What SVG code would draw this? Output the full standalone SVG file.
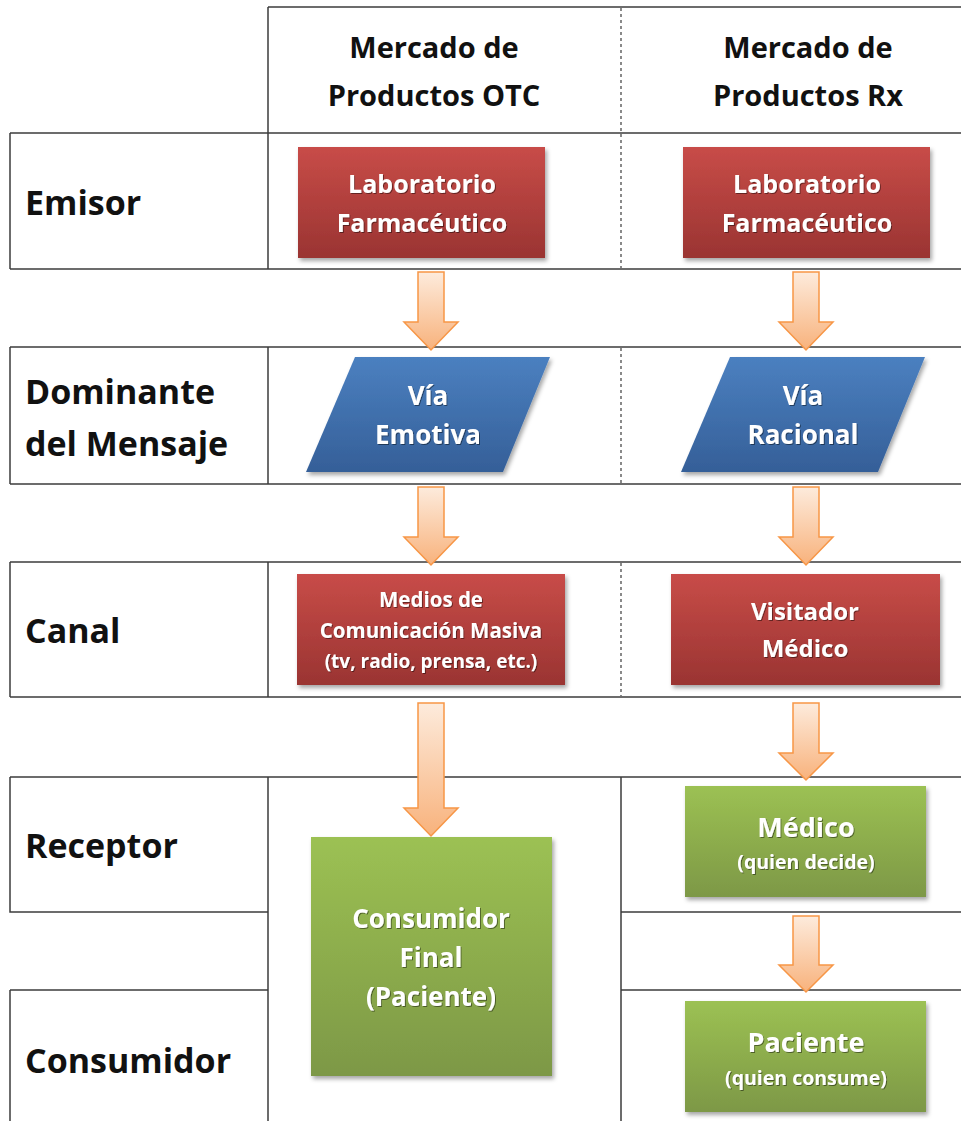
<svg xmlns="http://www.w3.org/2000/svg" width="961" height="1121" viewBox="0 0 961 1121">
<defs>
<linearGradient id="gRed" x1="0" y1="0" x2="0" y2="1"><stop offset="0" stop-color="#c84c48"/><stop offset="1" stop-color="#9a3432"/></linearGradient>
<linearGradient id="gBlue" x1="0" y1="0" x2="0" y2="1"><stop offset="0" stop-color="#4b80c0"/><stop offset="1" stop-color="#355f98"/></linearGradient>
<linearGradient id="gGreen" x1="0" y1="0" x2="0" y2="1"><stop offset="0" stop-color="#9cc153"/><stop offset="1" stop-color="#7d9846"/></linearGradient>
<linearGradient id="gArrow" x1="0" y1="0" x2="0" y2="1"><stop offset="0" stop-color="#fdebdc"/><stop offset="1" stop-color="#f8b27c"/></linearGradient>
<filter id="shadow" x="-10%" y="-10%" width="130%" height="130%"><feDropShadow dx="2" dy="3" stdDeviation="2" flood-color="#000" flood-opacity="0.35"/></filter>
<filter id="tshadow" x="-5%" y="-20%" width="110%" height="150%"><feDropShadow dx="1" dy="1" stdDeviation="0.6" flood-color="#000" flood-opacity="0.45"/></filter>
</defs>
<style>
.line{stroke:#3c3c3c;stroke-width:1.5;fill:none}
.dash{stroke:#3c3c3c;stroke-width:1.2;stroke-dasharray:3,3;fill:none}
.lbl{font-family:"Open Sans","Liberation Sans",sans-serif;font-weight:bold;fill:#111;font-size:34px}
.hdr{font-family:"Open Sans","Liberation Sans",sans-serif;font-weight:bold;fill:#111;font-size:29px;text-anchor:middle}
.wt{font-family:"Open Sans","Liberation Sans",sans-serif;font-weight:bold;fill:#fff;text-anchor:middle}
.arrow{fill:url(#gArrow);stroke:#f79646;stroke-width:1.5;stroke-linejoin:miter}
</style>
<rect width="961" height="1121" fill="#fff"/>

<g id="grid">
<path class="line" d="M268,7 H961 M268,7 V133"/>
<path class="dash" d="M621,8 V133"/>
<path class="line" d="M10,133 H961 M10,269 H961 M10,133 V269 M268,133 V269"/>
<path class="dash" d="M621,134 V268"/>
<path class="line" d="M10,347 H961 M10,484 H961 M10,347 V484 M268,347 V484"/>
<path class="dash" d="M621,348 V483"/>
<path class="line" d="M10,562 H961 M10,697 H961 M10,562 V697 M268,562 V697"/>
<path class="dash" d="M621,563 V696"/>
<path class="line" d="M10,777 H961 M10,777 V912 H268 M10,990 H268 M10,990 V1121 M268,777 V1121 M621,777 V1121 M621,912 H961 M621,990 H961"/>
</g>

<g id="labels">
<text class="hdr" x="434" y="58">Mercado de</text>
<text class="hdr" x="434" y="106">Productos OTC</text>
<text class="hdr" x="808" y="58">Mercado de</text>
<text class="hdr" x="808" y="106">Productos Rx</text>
<text class="lbl" x="25" y="215">Emisor</text>
<text class="lbl" x="25" y="404">Dominante</text>
<text class="lbl" x="25" y="456">del Mensaje</text>
<text class="lbl" x="25" y="643">Canal</text>
<text class="lbl" x="25" y="858">Receptor</text>
<text class="lbl" x="25" y="1073">Consumidor</text>
</g>

<g id="connectors">
<path class="arrow" d="M418,272 H444 V322 H458 L431,350 L404,322 H418 Z"/>
<path class="arrow" d="M793,272 H819 V322 H833 L806,350 L779,322 H793 Z"/>
<path class="arrow" d="M418,487 H444 V537 H458 L431,565 L404,537 H418 Z"/>
<path class="arrow" d="M793,487 H819 V537 H833 L806,565 L779,537 H793 Z"/>
<path class="arrow" d="M418,703 H444 V808 H458 L431,836 L404,808 H418 Z"/>
<path class="arrow" d="M793,703 H819 V753 H833 L806,780 L779,753 H793 Z"/>
<path class="arrow" d="M793,916 H819 V965 H833 L806,992 L779,965 H793 Z"/>
</g>

<g id="otc-emisor">
<rect x="298" y="147" width="247" height="111" fill="url(#gRed)" filter="url(#shadow)"/>
<g filter="url(#tshadow)"><text class="wt" x="422" y="193" font-size="25">Laboratorio</text>
<text class="wt" x="422" y="232" font-size="25">Farmacéutico</text></g>
</g>
<g id="rx-emisor">
<rect x="683" y="147" width="247" height="111" fill="url(#gRed)" filter="url(#shadow)"/>
<g filter="url(#tshadow)"><text class="wt" x="807" y="193" font-size="25">Laboratorio</text>
<text class="wt" x="807" y="232" font-size="25">Farmacéutico</text></g>
</g>

<g id="otc-mensaje">
<polygon points="355,357 550,357 503,472 306,472" fill="url(#gBlue)" filter="url(#shadow)"/>
<g filter="url(#tshadow)"><text class="wt" x="428" y="405" font-size="26">Vía</text>
<text class="wt" x="428" y="444" font-size="26">Emotiva</text></g>
</g>
<g id="rx-mensaje">
<polygon points="730,357 925,357 878,472 681,472" fill="url(#gBlue)" filter="url(#shadow)"/>
<g filter="url(#tshadow)"><text class="wt" x="803" y="405" font-size="26">Vía</text>
<text class="wt" x="803" y="444" font-size="26">Racional</text></g>
</g>

<g id="otc-canal">
<rect x="297" y="574" width="268" height="111" fill="url(#gRed)" filter="url(#shadow)"/>
<g filter="url(#tshadow)"><text class="wt" x="431" y="607" font-size="20.5">Medios de</text>
<text class="wt" x="431" y="638" font-size="20.5">Comunicación Masiva</text>
<text class="wt" x="431" y="668" font-size="19">(tv, radio, prensa, etc.)</text></g>
</g>
<g id="rx-canal">
<rect x="671" y="574" width="269" height="111" fill="url(#gRed)" filter="url(#shadow)"/>
<g filter="url(#tshadow)"><text class="wt" x="805" y="620" font-size="24">Visitador</text>
<text class="wt" x="805" y="657" font-size="24">Médico</text></g>
</g>

<g id="otc-consumidor">
<rect x="311" y="837" width="241" height="239" fill="url(#gGreen)" filter="url(#shadow)"/>
<g filter="url(#tshadow)"><text class="wt" x="431" y="928" font-size="26">Consumidor</text>
<text class="wt" x="431" y="967" font-size="26">Final</text>
<text class="wt" x="431" y="1006" font-size="26">(Paciente)</text></g>
</g>

<g id="rx-medico">
<rect x="685" y="786" width="241" height="111" fill="url(#gGreen)" filter="url(#shadow)"/>
<g filter="url(#tshadow)"><text class="wt" x="806" y="837" font-size="27">Médico</text>
<text class="wt" x="806" y="869" font-size="19.5">(quien decide)</text></g>
</g>
<g id="rx-paciente">
<rect x="685" y="1001" width="241" height="111" fill="url(#gGreen)" filter="url(#shadow)"/>
<g filter="url(#tshadow)"><text class="wt" x="806" y="1052" font-size="27">Paciente</text>
<text class="wt" x="806" y="1085" font-size="19.5">(quien consume)</text></g>
</g>
</svg>
